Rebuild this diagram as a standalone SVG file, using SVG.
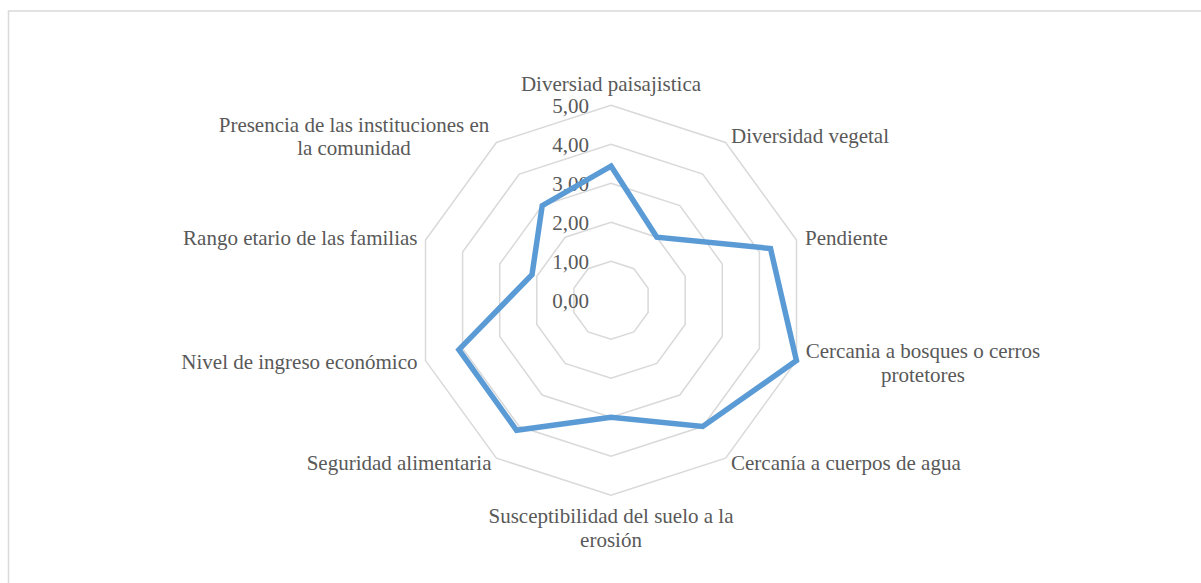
<svg xmlns="http://www.w3.org/2000/svg" width="1201" height="583" viewBox="0 0 1201 583">
<style>
.grid{fill:none;stroke:#d9d9d9;stroke-width:1.5}
.t{font-family:'Liberation Serif','Tinos','Times New Roman','DejaVu Serif',serif;font-size:21px;fill:#595959}
.m{text-anchor:middle}
.e{text-anchor:end}
.series{fill:none;stroke:#5b9bd5;stroke-width:5.5;stroke-linejoin:miter}
</style>
<rect x="0" y="0" width="1201" height="583" fill="#ffffff"/>
<rect id="frame" x="8.5" y="11" width="1250" height="650" fill="none" stroke="#d9d9d9" stroke-width="1.5"/>
<g id="gridlines">
<polygon class="grid" points="611,105.3 725.6,142.5 796.5,240 796.5,360.6 725.6,458.1 611,495.3 496.4,458.1 425.5,360.6 425.5,240 496.4,142.5"/>
<polygon class="grid" points="611,144.3 702.7,174.1 759.4,252.1 759.4,348.5 702.7,426.5 611,456.3 519.3,426.5 462.6,348.5 462.6,252.1 519.3,174.1"/>
<polygon class="grid" points="611,183.3 679.8,205.6 722.3,264.1 722.3,336.5 679.8,395 611,417.3 542.2,395 499.7,336.5 499.7,264.1 542.2,205.6"/>
<polygon class="grid" points="611,222.3 656.8,237.2 685.2,276.2 685.2,324.4 656.8,363.4 611,378.3 565.2,363.4 536.8,324.4 536.8,276.2 565.2,237.2"/>
<polygon class="grid" points="611,261.3 633.9,268.7 648.1,288.2 648.1,312.4 633.9,331.9 611,339.3 588.1,331.9 573.9,312.4 573.9,288.2 588.1,268.7"/>
</g>
<g id="axis-values">
<text class="t e" x="589" y="112.8">5,00</text>
<text class="t e" x="589" y="151.8">4,00</text>
<text class="t e" x="589" y="190.8">3,00</text>
<text class="t e" x="589" y="229.8">2,00</text>
<text class="t e" x="589" y="268.8">1,00</text>
<text class="t e" x="589" y="307.8">0,00</text>
</g>
<g id="series">
<polygon class="series" points="611,166.1 656.85,237.2 770.5,248.5 796.45,360.56 702.7,426.5 611,417.3 516.55,430.3 458.9,349.7 532,274.6 542.2,205.6"/>
</g>
<g id="cat-diversiad-paisajistica"><text class="t m" x="611" y="91">Diversiad paisajistica</text></g>
<g id="cat-diversidad-vegetal"><text class="t" x="731" y="143">Diversidad vegetal</text></g>
<g id="cat-pendiente"><text class="t" x="805" y="245">Pendiente</text></g>
<g id="cat-cercania-bosques"><text class="t m" x="923" y="357.5">Cercania a bosques o cerros</text><text class="t m" x="923" y="382">protetores</text></g>
<g id="cat-cercania-agua"><text class="t" x="731" y="470">Cercanía a cuerpos de agua</text></g>
<g id="cat-susceptibilidad"><text class="t m" x="611" y="523">Susceptibilidad del suelo a la</text><text class="t m" x="611" y="546.5">erosión</text></g>
<g id="cat-seguridad"><text class="t e" x="491.5" y="470">Seguridad alimentaria</text></g>
<g id="cat-nivel-ingreso"><text class="t e" x="417.5" y="369.3">Nivel de ingreso económico</text></g>
<g id="cat-rango-etario"><text class="t e" x="417.5" y="245">Rango etario de las familias</text></g>
<g id="cat-presencia"><text class="t m" x="354" y="131.7">Presencia de las instituciones en</text><text class="t m" x="354" y="155">la comunidad</text></g>
</svg>
